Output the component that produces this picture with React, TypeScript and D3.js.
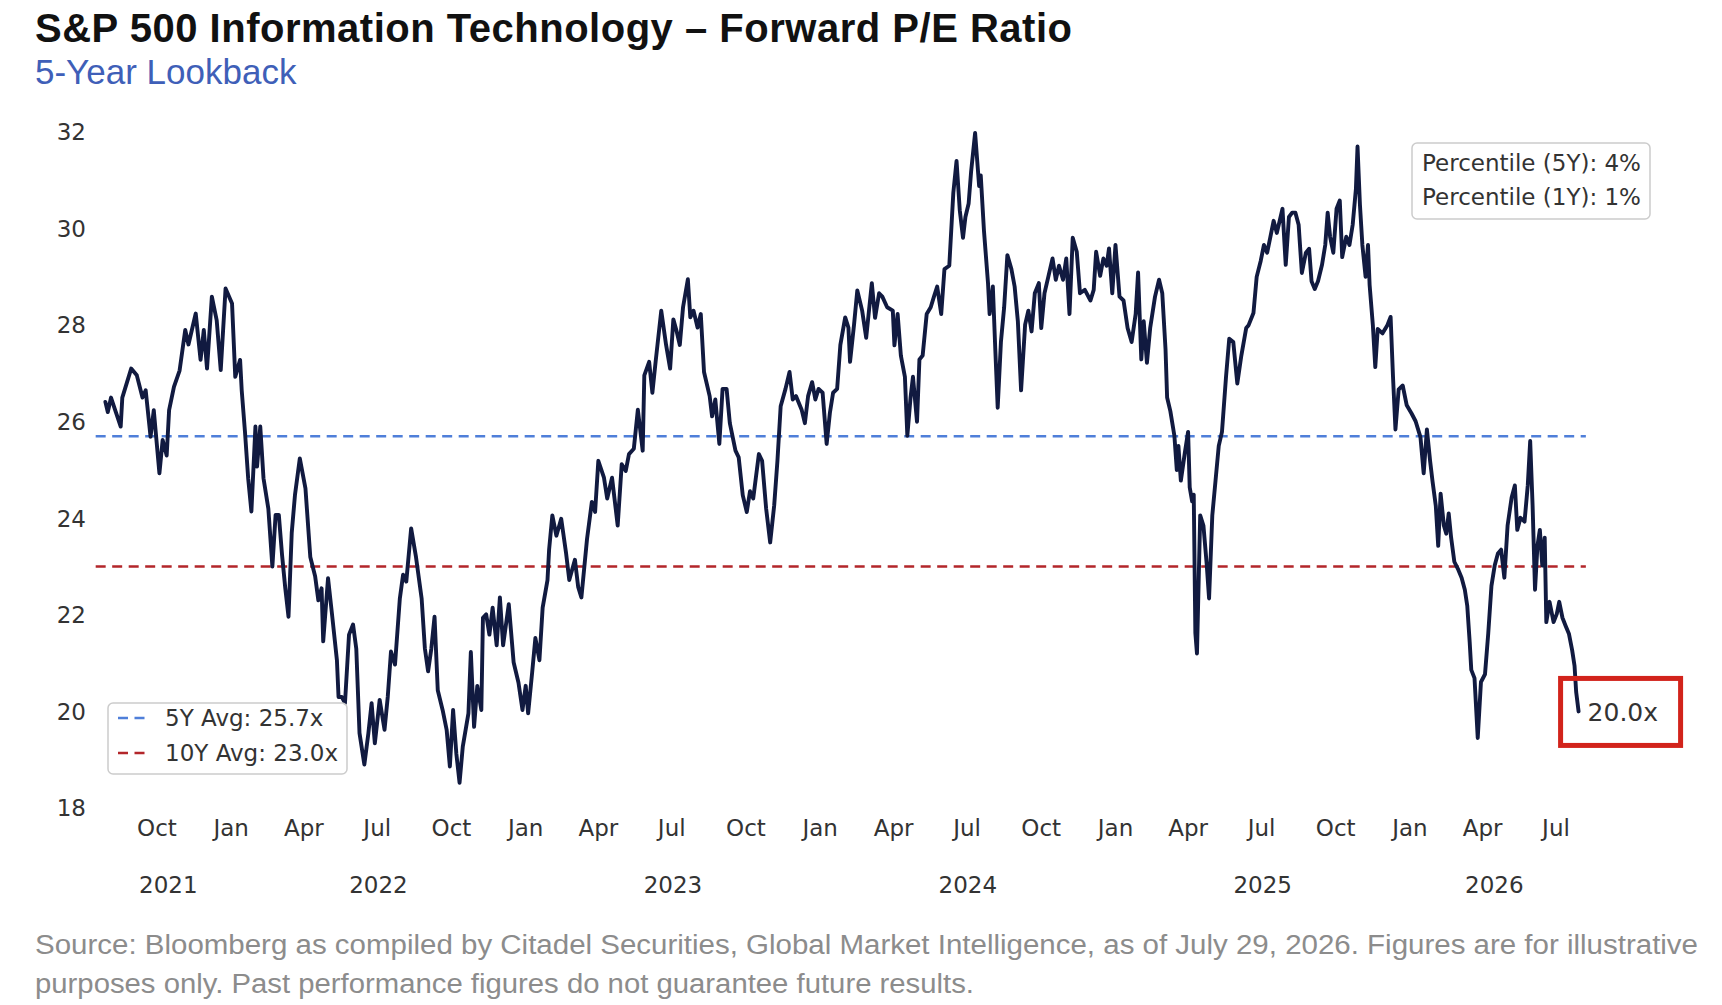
import React, { useEffect, useRef } from "react";
import * as d3 from "d3";

type Obs = [string, number];

// forward P/E readings
const pe2021: Obs[] = [
  ["2021-07-29", 26.41], ["2021-08-01", 26.2], ["2021-08-05", 26.5], ["2021-08-11", 26.2],
  ["2021-08-17", 25.9], ["2021-08-19", 26.5], ["2021-08-30", 27.1], ["2021-09-06", 26.96],
  ["2021-09-13", 26.5], ["2021-09-17", 26.65], ["2021-09-23", 25.69], ["2021-09-27", 26.24],
  ["2021-10-04", 24.93], ["2021-10-08", 25.62], ["2021-10-13", 25.3], ["2021-10-16", 26.24],
  ["2021-10-22", 26.72], ["2021-10-29", 27.06], ["2021-11-05", 27.9], ["2021-11-09", 27.6],
  ["2021-11-18", 28.24], ["2021-11-24", 27.28], ["2021-11-28", 27.9], ["2021-12-02", 27.1],
  ["2021-12-08", 28.59], ["2021-12-14", 28.1], ["2021-12-19", 27.07], ["2021-12-25", 28.76],
];

const pe2022: Obs[] = [
  ["2022-01-02", 28.45], ["2022-01-06", 26.93], ["2022-01-12", 27.28], ["2022-01-14", 26.65],
  ["2022-01-18", 25.8], ["2022-01-22", 24.83], ["2022-01-26", 24.14], ["2022-01-31", 25.9],
  ["2022-02-02", 25.07], ["2022-02-06", 25.9], ["2022-02-10", 24.83], ["2022-02-16", 24.2],
  ["2022-02-21", 23.0], ["2022-02-25", 24.07], ["2022-03-01", 24.07], ["2022-03-05", 23.24],
  ["2022-03-09", 22.55], ["2022-03-13", 21.96], ["2022-03-17", 23.7], ["2022-03-21", 24.48],
  ["2022-03-27", 25.24], ["2022-04-03", 24.62], ["2022-04-09", 23.2], ["2022-04-15", 22.8],
  ["2022-04-19", 22.3], ["2022-04-23", 22.55], ["2022-04-25", 21.45], ["2022-05-01", 22.76],
  ["2022-05-06", 22.0], ["2022-05-12", 21.06], ["2022-05-14", 20.3], ["2022-05-18", 20.3],
  ["2022-05-22", 20.17], ["2022-05-27", 21.59], ["2022-06-01", 21.8], ["2022-06-05", 21.3],
  ["2022-06-09", 19.55], ["2022-06-15", 18.9], ["2022-06-20", 19.55], ["2022-06-24", 20.17],
  ["2022-06-28", 19.34], ["2022-07-04", 20.24], ["2022-07-10", 19.62], ["2022-07-14", 20.3],
  ["2022-07-18", 21.24], ["2022-07-23", 20.97], ["2022-07-29", 22.34], ["2022-08-02", 22.83],
  ["2022-08-06", 22.69], ["2022-08-12", 23.79], ["2022-08-18", 23.2], ["2022-08-25", 22.34],
  ["2022-08-29", 21.31], ["2022-09-02", 20.83], ["2022-09-06", 21.3], ["2022-09-10", 21.96],
  ["2022-09-14", 20.44], ["2022-09-20", 20.03], ["2022-09-25", 19.62], ["2022-09-29", 18.86],
  ["2022-10-03", 20.03], ["2022-10-07", 19.13], ["2022-10-11", 18.52], ["2022-10-15", 19.27],
  ["2022-10-22", 19.96], ["2022-10-25", 21.23], ["2022-10-29", 19.68], ["2022-11-02", 20.53],
  ["2022-11-07", 20.03], ["2022-11-09", 21.94], ["2022-11-13", 22.01], ["2022-11-17", 21.59],
  ["2022-11-21", 22.15], ["2022-11-26", 21.37], ["2022-11-30", 22.36], ["2022-12-04", 21.37],
  ["2022-12-11", 22.22], ["2022-12-17", 21.02], ["2022-12-23", 20.6], ["2022-12-28", 20.03],
];

const pe2023: Obs[] = [
  ["2023-01-01", 20.53], ["2023-01-04", 19.96], ["2023-01-09", 20.81], ["2023-01-13", 21.52],
  ["2023-01-18", 21.06], ["2023-01-22", 22.15], ["2023-01-28", 22.72], ["2023-01-30", 23.35],
  ["2023-02-03", 24.06], ["2023-02-08", 23.64], ["2023-02-14", 23.99], ["2023-02-20", 23.28],
  ["2023-02-24", 22.72], ["2023-03-03", 23.14], ["2023-03-07", 22.58], ["2023-03-11", 22.36],
  ["2023-03-18", 23.57], ["2023-03-24", 24.34], ["2023-03-28", 24.13], ["2023-04-01", 25.19],
  ["2023-04-08", 24.84], ["2023-04-12", 24.41], ["2023-04-18", 24.84], ["2023-04-25", 23.85],
  ["2023-04-30", 25.12], ["2023-05-05", 24.98], ["2023-05-09", 25.33], ["2023-05-15", 25.44],
  ["2023-05-20", 26.25], ["2023-05-26", 25.4], ["2023-05-28", 26.96], ["2023-06-03", 27.24],
  ["2023-06-07", 26.6], ["2023-06-11", 27.24], ["2023-06-18", 28.3], ["2023-06-24", 27.59],
  ["2023-06-29", 27.1], ["2023-07-03", 28.12], ["2023-07-07", 27.88], ["2023-07-11", 27.59],
  ["2023-07-15", 28.37], ["2023-07-21", 28.95], ["2023-07-24", 28.16], ["2023-07-28", 28.3],
  ["2023-08-02", 27.95], ["2023-08-06", 28.23], ["2023-08-10", 27.03], ["2023-08-17", 26.53],
  ["2023-08-20", 26.11], ["2023-08-24", 26.46], ["2023-08-29", 25.54], ["2023-09-02", 26.68],
  ["2023-09-07", 26.68], ["2023-09-11", 25.97], ["2023-09-18", 25.4], ["2023-09-22", 25.26],
  ["2023-09-27", 24.48], ["2023-10-02", 24.13], ["2023-10-06", 24.56], ["2023-10-10", 24.41],
  ["2023-10-17", 25.33], ["2023-10-21", 25.19], ["2023-10-26", 24.2], ["2023-10-31", 23.5],
  ["2023-11-05", 24.27], ["2023-11-09", 25.19], ["2023-11-13", 26.32], ["2023-11-19", 26.68],
  ["2023-11-24", 27.03], ["2023-11-28", 26.46], ["2023-12-02", 26.53], ["2023-12-09", 26.25],
  ["2023-12-13", 25.97], ["2023-12-17", 26.53], ["2023-12-22", 26.82], ["2023-12-26", 26.46],
  ["2023-12-30", 26.68],
];

const pe2024: Obs[] = [
  ["2024-01-04", 26.6], ["2024-01-09", 25.54], ["2024-01-13", 26.18], ["2024-01-17", 26.6],
  ["2024-01-22", 26.68], ["2024-01-26", 27.59], ["2024-02-01", 28.16], ["2024-02-05", 27.95],
  ["2024-02-07", 27.24], ["2024-02-12", 28.02], ["2024-02-16", 28.72], ["2024-02-22", 28.3],
  ["2024-02-27", 27.74], ["2024-03-05", 28.87], ["2024-03-09", 28.15], ["2024-03-14", 28.66],
  ["2024-03-18", 28.59], ["2024-03-24", 28.37], ["2024-03-31", 28.3], ["2024-04-02", 27.58],
  ["2024-04-06", 28.23], ["2024-04-10", 27.37], ["2024-04-15", 26.93], ["2024-04-18", 25.71],
  ["2024-04-22", 26.5], ["2024-04-25", 26.93], ["2024-04-30", 26.0], ["2024-05-03", 27.29],
  ["2024-05-07", 27.37], ["2024-05-12", 28.23], ["2024-05-17", 28.37], ["2024-05-21", 28.59],
  ["2024-05-25", 28.8], ["2024-05-30", 28.23], ["2024-06-03", 29.16], ["2024-06-09", 29.23],
  ["2024-06-14", 30.74], ["2024-06-18", 31.4], ["2024-06-22", 30.38], ["2024-06-26", 29.81],
  ["2024-06-29", 30.24], ["2024-07-03", 30.52], ["2024-07-06", 31.17], ["2024-07-11", 31.98],
  ["2024-07-16", 30.88], ["2024-07-18", 31.1], ["2024-07-22", 29.95], ["2024-07-24", 29.52],
  ["2024-07-27", 28.87], ["2024-07-29", 28.23], ["2024-08-02", 28.8], ["2024-08-05", 27.51],
  ["2024-08-08", 26.29], ["2024-08-12", 27.65], ["2024-08-16", 28.37], ["2024-08-20", 29.45],
  ["2024-08-25", 29.16], ["2024-08-29", 28.8], ["2024-09-02", 28.08], ["2024-09-06", 26.65],
  ["2024-09-11", 28.01], ["2024-09-15", 28.3], ["2024-09-19", 27.87], ["2024-09-23", 28.66],
  ["2024-09-28", 28.87], ["2024-10-01", 27.94], ["2024-10-05", 28.66], ["2024-10-10", 29.02],
  ["2024-10-15", 29.38], ["2024-10-19", 28.94], ["2024-10-23", 29.23], ["2024-10-28", 28.94],
  ["2024-11-01", 29.38], ["2024-11-05", 28.23], ["2024-11-09", 29.81], ["2024-11-14", 29.52],
  ["2024-11-18", 28.66], ["2024-11-24", 28.73], ["2024-12-01", 28.51], ["2024-12-05", 28.73],
  ["2024-12-08", 29.52], ["2024-12-13", 29.02], ["2024-12-17", 29.38], ["2024-12-21", 29.23],
  ["2024-12-24", 29.59], ["2024-12-28", 28.66],
];

const pe2025: Obs[] = [
  ["2025-01-01", 29.66], ["2025-01-06", 28.59], ["2025-01-11", 28.51], ["2025-01-16", 27.94],
  ["2025-01-21", 27.65], ["2025-01-26", 28.23], ["2025-01-29", 29.09], ["2025-02-02", 27.29],
  ["2025-02-05", 28.08], ["2025-02-09", 27.22], ["2025-02-13", 27.94], ["2025-02-19", 28.59],
  ["2025-02-24", 28.94], ["2025-02-28", 28.66], ["2025-03-04", 27.51], ["2025-03-06", 26.5],
  ["2025-03-10", 26.22], ["2025-03-15", 25.71], ["2025-03-18", 25.0], ["2025-03-20", 25.5],
  ["2025-03-23", 24.78], ["2025-03-28", 25.36], ["2025-04-01", 25.79], ["2025-04-03", 24.64],
  ["2025-04-06", 24.35], ["2025-04-08", 24.49], ["2025-04-10", 21.62], ["2025-04-12", 21.2],
  ["2025-04-16", 24.06], ["2025-04-20", 23.85], ["2025-04-24", 23.06], ["2025-04-27", 22.34],
  ["2025-05-01", 24.06], ["2025-05-05", 24.78], ["2025-05-09", 25.5], ["2025-05-13", 25.79],
  ["2025-05-18", 26.93], ["2025-05-22", 27.72], ["2025-05-27", 27.65], ["2025-06-01", 26.79],
  ["2025-06-06", 27.37], ["2025-06-12", 27.94], ["2025-06-15", 28.0], ["2025-06-21", 28.25],
  ["2025-06-25", 29.0], ["2025-06-30", 29.33], ["2025-07-04", 29.66], ["2025-07-08", 29.5],
  ["2025-07-12", 29.83], ["2025-07-16", 30.16], ["2025-07-20", 29.91], ["2025-07-27", 30.41],
  ["2025-07-31", 29.25], ["2025-08-04", 30.24], ["2025-08-08", 30.33], ["2025-08-12", 30.33],
  ["2025-08-16", 30.08], ["2025-08-20", 29.08], ["2025-08-25", 29.5], ["2025-08-29", 29.58],
  ["2025-09-01", 28.91], ["2025-09-05", 28.75], ["2025-09-09", 28.91], ["2025-09-14", 29.25],
  ["2025-09-18", 29.66], ["2025-09-21", 30.33], ["2025-09-24", 29.83], ["2025-09-28", 29.5],
  ["2025-10-02", 30.41], ["2025-10-06", 30.58], ["2025-10-09", 29.41], ["2025-10-14", 29.83],
  ["2025-10-18", 29.66], ["2025-10-22", 30.08], ["2025-10-26", 30.82], ["2025-10-28", 31.7],
  ["2025-10-31", 30.49], ["2025-11-03", 29.66], ["2025-11-07", 29.0], ["2025-11-10", 29.66],
  ["2025-11-12", 28.83], ["2025-11-16", 28.0], ["2025-11-19", 27.13], ["2025-11-22", 27.92],
  ["2025-11-28", 27.83], ["2025-12-04", 28.0], ["2025-12-08", 28.17], ["2025-12-11", 26.92],
  ["2025-12-14", 25.84], ["2025-12-18", 26.67], ["2025-12-23", 26.75], ["2025-12-28", 26.34],
];

const pe2026: Obs[] = [
  ["2026-01-03", 26.17], ["2026-01-08", 26.01], ["2026-01-14", 25.68], ["2026-01-18", 24.93],
  ["2026-01-22", 25.84], ["2026-01-26", 25.18], ["2026-01-29", 24.76], ["2026-02-02", 24.26],
  ["2026-02-05", 23.43], ["2026-02-08", 24.51], ["2026-02-12", 23.85], ["2026-02-15", 23.68],
  ["2026-02-18", 24.1], ["2026-02-21", 23.6], ["2026-02-25", 23.1], ["2026-03-02", 22.93],
  ["2026-03-06", 22.77], ["2026-03-10", 22.52], ["2026-03-13", 22.19], ["2026-03-16", 21.44],
  ["2026-03-18", 20.86], ["2026-03-22", 20.69], ["2026-03-26", 19.45], ["2026-03-30", 20.61],
  ["2026-04-04", 20.77], ["2026-04-08", 21.61], ["2026-04-12", 22.6], ["2026-04-16", 23.02],
  ["2026-04-20", 23.27], ["2026-04-24", 23.35], ["2026-04-28", 22.77], ["2026-05-02", 23.85],
  ["2026-05-07", 24.43], ["2026-05-11", 24.68], ["2026-05-14", 23.76], ["2026-05-18", 24.01],
  ["2026-05-23", 23.93], ["2026-05-27", 24.68], ["2026-05-30", 25.6], ["2026-06-02", 24.26],
  ["2026-06-05", 22.52], ["2026-06-08", 23.43], ["2026-06-11", 23.76], ["2026-06-14", 23.02],
  ["2026-06-17", 23.6], ["2026-06-19", 21.85], ["2026-06-23", 22.27], ["2026-06-28", 21.85],
  ["2026-07-02", 22.02], ["2026-07-05", 22.27], ["2026-07-09", 21.94], ["2026-07-13", 21.77],
  ["2026-07-17", 21.61], ["2026-07-21", 21.27], ["2026-07-24", 20.94], ["2026-07-26", 20.4],
  ["2026-07-29", 20.0],
];

const avgValues = [25.7, 23.0];
const avgLabels = ["5Y Avg: 25.7x", "10Y Avg: 23.0x"];
const percentileLines = ["Percentile (5Y): 4%", "Percentile (1Y): 1%"];
const lastLabel = "20.0x";

const yTicks = [18, 20, 22, 24, 26, 28, 30, 32];
const monthTicks = [
  "2021-10-01", "2022-01-01", "2022-04-01", "2022-07-01", "2022-10-01",
  "2023-01-01", "2023-04-01", "2023-07-01", "2023-10-01", "2024-01-01",
  "2024-04-01", "2024-07-01", "2024-10-01", "2025-01-01", "2025-04-01",
  "2025-07-01", "2025-10-01", "2026-01-01", "2026-04-01", "2026-07-01",
];
const yearLabels = ["2021", "2022", "2023", "2024", "2025", "2026"];

const title = "S&P 500 Information Technology \u2013 Forward P/E Ratio";
const subtitle = "5-Year Lookback";
const sourceLines = [
  "Source: Bloomberg as compiled by Citadel Securities, Global Market Intelligence, as of July 29, 2026. Figures are for illustrative",
  "purposes only. Past performance figures do not guarantee future results.",
];

const W = 1722;
const H = 1005;
const LINE = "#111a40";
const AVG_COLORS = ["#4f7fd9", "#b3262a"];
const TICK = "#333333";
const MPL = "'DejaVu Sans', Verdana, sans-serif";
const SANS = "'Liberation Sans', Arial, Helvetica, sans-serif";
// the source note in the picture is set wider than plain Arial
const SOURCE_WIDTHS = [1663, 939];

const App: React.FC = () => {
  const ref = useRef<SVGSVGElement | null>(null);

  useEffect(() => {
    if (!ref.current) return;
    const svg = d3.select(ref.current);
    svg.selectAll("*").remove();

    const parse = d3.timeParse("%Y-%m-%d");
    const series = [...pe2021, ...pe2022, ...pe2023, ...pe2024, ...pe2025, ...pe2026]
      .map(([d, v]) => ({ date: parse(d) as Date, value: v }));
    const first = series[0].date;
    const last = series[series.length - 1];

    const x = d3.scaleTime()
      .domain([parse("2021-10-01") as Date, parse("2026-07-01") as Date])
      .range([157, 1556]);
    const y = d3.scaleLinear().domain([18, 32]).range([808, 132]);

    svg.append("rect").attr("width", W).attr("height", H).attr("fill", "#ffffff");

    // title block
    svg.append("text")
      .attr("x", 35).attr("y", 42)
      .attr("font-family", SANS).attr("font-weight", "bold").attr("font-size", 40)
      .attr("textLength", 1037)
      .attr("fill", "#111111")
      .text(title);
    svg.append("text")
      .attr("x", 35).attr("y", 84)
      .attr("font-family", SANS).attr("font-size", 35)
      .attr("fill", "#3f5fb8")
      .text(subtitle);

    // y tick labels
    svg.append("g").selectAll("text").data(yTicks).join("text")
      .attr("x", 86).attr("y", d => y(d) + 8.3)
      .attr("text-anchor", "end")
      .attr("font-family", MPL).attr("font-size", 23).attr("fill", TICK)
      .text(d => d);

    // month tick labels
    svg.append("g").selectAll("text").data(monthTicks).join("text")
      .attr("x", d => x(parse(d) as Date)).attr("y", 836)
      .attr("text-anchor", "middle")
      .attr("font-family", MPL).attr("font-size", 23).attr("fill", TICK)
      .text(d => d3.timeFormat("%b")(parse(d) as Date));

    // year labels, centred on the visible part of each year
    svg.append("g").selectAll("text").data(yearLabels).join("text")
      .attr("x", d => {
        const a = d3.max([new Date(+d, 0, 1), first]) as Date;
        const b = d3.min([new Date(+d + 1, 0, 1), last.date]) as Date;
        return (x(a) + x(b)) / 2;
      })
      .attr("y", 893)
      .attr("text-anchor", "middle")
      .attr("font-family", MPL).attr("font-size", 23).attr("fill", TICK)
      .text(d => d);

    // average lines
    const x0 = x(d3.timeDay.offset(first, -12));
    const x1 = x(d3.timeDay.offset(last.date, 9));
    avgValues.forEach((v, i) => {
      svg.append("line")
        .attr("x1", x0).attr("x2", x1)
        .attr("y1", y(v)).attr("y2", y(v))
        .attr("stroke", AVG_COLORS[i]).attr("stroke-width", 2.6)
        .attr("stroke-dasharray", "10,6.5");
    });

    // P/E line
    const line = d3.line<{ date: Date; value: number }>()
      .x(d => x(d.date))
      .y(d => y(d.value));
    svg.append("path")
      .datum(series)
      .attr("d", line)
      .attr("fill", "none")
      .attr("stroke", LINE)
      .attr("stroke-width", 3.9)
      .attr("stroke-linejoin", "round")
      .attr("stroke-linecap", "round");

    // legend, lower left
    const lg = svg.append("g");
    lg.append("rect")
      .attr("x", 108).attr("y", 703).attr("width", 239).attr("height", 71).attr("rx", 5)
      .attr("fill", "#ffffff").attr("fill-opacity", 0.8)
      .attr("stroke", "#cccccc").attr("stroke-width", 1.5);
    avgLabels.forEach((label, i) => {
      const cy = 718 + i * 35;
      lg.append("line")
        .attr("x1", 118).attr("x2", 151).attr("y1", cy).attr("y2", cy)
        .attr("stroke", AVG_COLORS[i]).attr("stroke-width", 2.6)
        .attr("stroke-dasharray", "10,6.5");
      lg.append("text")
        .attr("x", 165).attr("y", cy + 8.3)
        .attr("font-family", MPL).attr("font-size", 23).attr("fill", TICK)
        .text(label);
    });

    // percentile box, upper right
    const pg = svg.append("g");
    pg.append("rect")
      .attr("x", 1412).attr("y", 143).attr("width", 238).attr("height", 76).attr("rx", 5)
      .attr("fill", "#ffffff").attr("fill-opacity", 0.8)
      .attr("stroke", "#cccccc").attr("stroke-width", 1.5);
    percentileLines.forEach((t, i) => {
      pg.append("text")
        .attr("x", 1422).attr("y", 171 + i * 34)
        .attr("font-family", MPL).attr("font-size", 23).attr("fill", TICK)
        .text(t);
    });

    // last value callout
    const lx = x(last.date);
    const ly = y(last.value);
    svg.append("rect")
      .attr("x", lx - 18).attr("y", ly - 33).attr("width", 120).attr("height", 67)
      .attr("fill", "none").attr("stroke", "#d2231b").attr("stroke-width", 5);
    svg.append("text")
      .attr("x", lx + 9).attr("y", ly + 10)
      .attr("font-family", MPL).attr("font-size", 25).attr("fill", TICK)
      .text(lastLabel);

    // source note
    svg.append("g").selectAll("text").data(sourceLines).join("text")
      .attr("x", 35).attr("y", (_, i) => 954 + i * 39)
      .attr("font-family", SANS).attr("font-size", 27).attr("fill", "#8c8c8c")
      .attr("textLength", (_, i) => SOURCE_WIDTHS[i])
      .attr("lengthAdjust", "spacingAndGlyphs")
      .text(d => d);
  }, []);

  return (
    <svg
      ref={ref}
      width={W}
      height={H}
      style={{ position: "absolute", left: 0, top: 0, display: "block" }}
    />
  );
};

export default App;
